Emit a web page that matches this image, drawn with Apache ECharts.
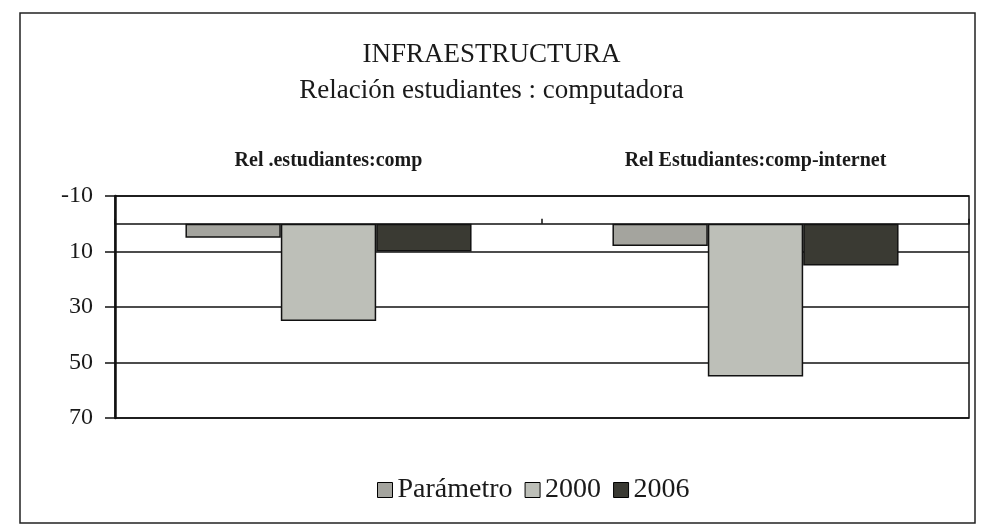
<!DOCTYPE html>
<html>
<head>
<meta charset="utf-8">
<script src="https://cdn.jsdelivr.net/npm/echarts@6/dist/echarts.min.js"></script>
<style>
  html, body { margin: 0; padding: 0; background: #fff; }
  #main { width: 983px; height: 527px; }
</style>
</head>
<body>
<div id="main"></div>
<script>
// datos
const categories = ['Rel .estudiantes:comp', 'Rel Estudiantes:comp-internet'];
const seriesNames = ['Parámetro', '2000', '2006'];
const parametro = [5, 8];
const valores2000 = [35, 55];
const valores2006 = [10, 15];
const yTicks = [-10, 10, 30, 50, 70];

const serif = '"Liberation Serif", "DejaVu Serif", serif';
const colors = ['#a4a49e', '#bdbfb8', '#3a3a33'];

const chart = echarts.init(document.getElementById('main'), null, { renderer: 'canvas' });

const option = {
  backgroundColor: '#ffffff',
  color: colors,
  animation: false,
  title: {
    text: 'INFRAESTRUCTURA\nRelación estudiantes : computadora',
    left: 'center',
    top: 32,
    textStyle: {
      fontFamily: serif,
      fontWeight: 'normal',
      fontSize: 27,
      lineHeight: 36,
      color: '#1a1a1a'
    }
  },
  graphic: [{
    type: 'rect',
    shape: { x: 20, y: 13, width: 955, height: 510 },
    style: { fill: 'none', stroke: '#222', lineWidth: 1.5 },
    silent: true
  }],
  legend: {
    data: seriesNames,
    top: 471,
    left: 372,
    icon: 'rect',
    itemWidth: 15,
    itemHeight: 15,
    itemGap: 12,
    itemStyle: { borderColor: '#000', borderWidth: 1 },
    textStyle: { fontFamily: serif, fontSize: 28, color: '#1a1a1a' }
  },
  grid: {
    left: 115,
    right: 14,
    top: 196,
    bottom: 109,
    show: true,
    borderColor: '#111',
    borderWidth: 1.5
  },
  xAxis: [{
    type: 'category',
    data: categories,
    position: 'top',
    axisLine: { show: false, onZero: false },
    axisTick: { show: false },
    axisLabel: {
      margin: 25,
      fontFamily: serif,
      fontWeight: 'bold',
      fontSize: 20,
      color: '#1a1a1a'
    }
  }, {
    type: 'category',
    data: categories,
    position: 'top',
    axisLine: { show: true, onZero: true, lineStyle: { color: '#111', width: 1.5 } },
    axisTick: { show: true, length: 5, lineStyle: { color: '#111', width: 1.5 } },
    axisLabel: { show: false }
  }],
  yAxis: {
    type: 'value',
    inverse: true,
    min: -10,
    max: 70,
    axisLine: { show: true, lineStyle: { color: '#111', width: 2.5 } },
    axisTick: {
      show: true,
      length: 10,
      customValues: yTicks,
      lineStyle: { color: '#111', width: 1.5 }
    },
    axisLabel: {
      customValues: yTicks,
      margin: 22,
      fontFamily: serif,
      fontSize: 24,
      color: '#1a1a1a'
    },
    splitLine: { show: true, lineStyle: { color: '#111', width: 1.5 } }
  },
  series: [{
    name: seriesNames[0],
    type: 'bar',
    xAxisIndex: 0,
    data: parametro,
    barGap: '0%',
    barCategoryGap: '33%',
    itemStyle: { borderColor: '#111', borderWidth: 1.5 }
  }, {
    name: seriesNames[1],
    type: 'bar',
    xAxisIndex: 0,
    data: valores2000,
    itemStyle: { borderColor: '#111', borderWidth: 1.5 }
  }, {
    name: seriesNames[2],
    type: 'bar',
    xAxisIndex: 0,
    data: valores2006,
    itemStyle: { borderColor: '#111', borderWidth: 1.5 }
  }]
};

chart.setOption(option);
</script>
</body>
</html>
